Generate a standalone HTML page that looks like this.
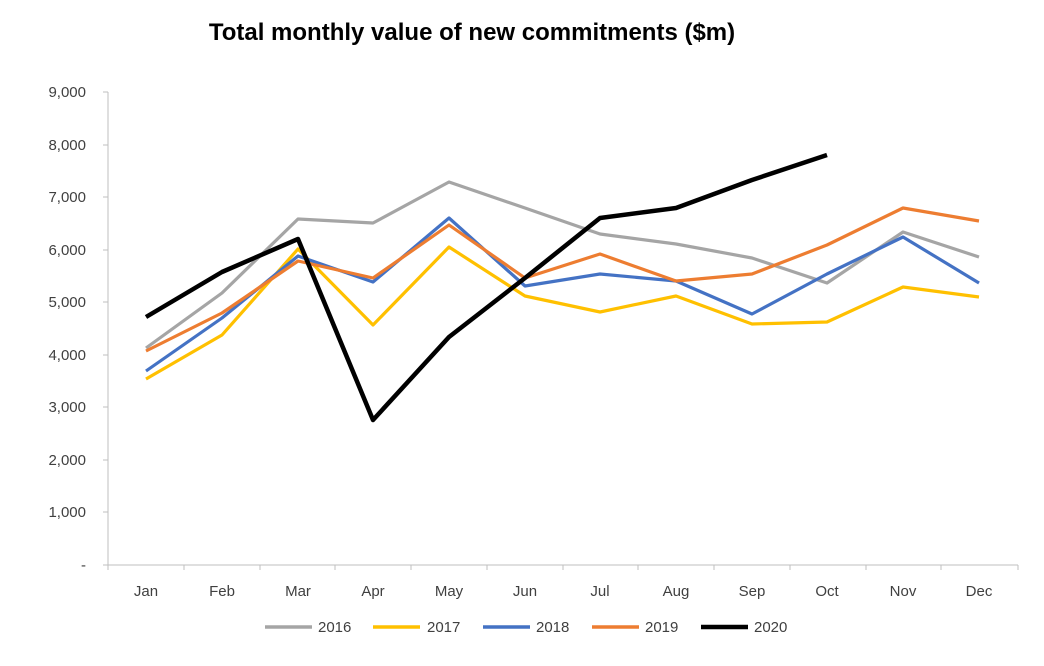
<!DOCTYPE html>
<html><head><meta charset="utf-8"><style>
html,body{margin:0;padding:0;background:#fff;}
svg text{font-family:"Liberation Sans",Arial,sans-serif;fill:#404040;}
</style></head><body>
<svg width="1044" height="661" viewBox="0 0 1044 661" xmlns="http://www.w3.org/2000/svg">
<text x="472" y="40" text-anchor="middle" font-size="24" font-weight="bold" style="fill:#000">Total monthly value of new commitments ($m)</text>
<g stroke="#bfbfbf" stroke-width="1">
<line x1="108" y1="92" x2="108" y2="565"/>
<line x1="103" y1="92" x2="108" y2="92"/><line x1="103" y1="145" x2="108" y2="145"/>
<line x1="103" y1="197" x2="108" y2="197"/><line x1="103" y1="250" x2="108" y2="250"/>
<line x1="103" y1="302" x2="108" y2="302"/><line x1="103" y1="355" x2="108" y2="355"/>
<line x1="103" y1="407" x2="108" y2="407"/><line x1="103" y1="460" x2="108" y2="460"/>
<line x1="103" y1="512" x2="108" y2="512"/><line x1="103" y1="565" x2="1018" y2="565"/>
<line x1="184" y1="565" x2="184" y2="570"/><line x1="260" y1="565" x2="260" y2="570"/>
<line x1="335" y1="565" x2="335" y2="570"/><line x1="411" y1="565" x2="411" y2="570"/>
<line x1="487" y1="565" x2="487" y2="570"/><line x1="563" y1="565" x2="563" y2="570"/>
<line x1="638" y1="565" x2="638" y2="570"/><line x1="714" y1="565" x2="714" y2="570"/>
<line x1="790" y1="565" x2="790" y2="570"/><line x1="866" y1="565" x2="866" y2="570"/>
<line x1="941" y1="565" x2="941" y2="570"/><line x1="1018" y1="565" x2="1018" y2="570"/>
<line x1="108" y1="565" x2="108" y2="570"/>
</g>
<g font-size="15" text-anchor="end">
<text x="86" y="97">9,000</text><text x="86" y="150">8,000</text><text x="86" y="202">7,000</text>
<text x="86" y="255">6,000</text><text x="86" y="307">5,000</text><text x="86" y="360">4,000</text>
<text x="86" y="412">3,000</text><text x="86" y="465">2,000</text><text x="86" y="517">1,000</text>
<text x="86" y="570">-</text>
</g>
<g font-size="15" text-anchor="middle">
<text x="146" y="596">Jan</text><text x="222" y="596">Feb</text><text x="298" y="596">Mar</text>
<text x="373" y="596">Apr</text><text x="449" y="596">May</text><text x="525" y="596">Jun</text>
<text x="600" y="596">Jul</text><text x="676" y="596">Aug</text><text x="752" y="596">Sep</text>
<text x="827" y="596">Oct</text><text x="903" y="596">Nov</text><text x="979" y="596">Dec</text>
</g>
<g fill="none" stroke-width="3.2" stroke-linejoin="round">
<polyline stroke="#a5a5a5" points="146,348 222,293 298,219 373,223 449,182 525,208 600,234 676,244 752,258 827,283 903,232 979,257"/>
<polyline stroke="#ffc000" points="146,379 222,335 298,249 373,325 449,247 525,296 600,312 676,296 752,324 827,322 903,287 979,297"/>
<polyline stroke="#4472c4" points="146,371 222,318 298,256 373,282 449,218 525,286 600,274 676,281 752,314 827,274 903,237 979,283"/>
<polyline stroke="#ed7d31" points="146,351 222,313 298,261 373,278 449,225 525,278 600,254 676,281 752,274 827,245 903,208 979,221"/>
<polyline stroke="#000" stroke-width="4.5" points="146,317 222,272 298,239 373,420 449,337 525,278 600,218 676,208 752,180 827,155"/>
</g>
<g stroke-width="3.5">
<line x1="265" y1="627" x2="312" y2="627" stroke="#a5a5a5"/>
<line x1="373" y1="627" x2="420" y2="627" stroke="#ffc000"/>
<line x1="483" y1="627" x2="530" y2="627" stroke="#4472c4"/>
<line x1="592" y1="627" x2="639" y2="627" stroke="#ed7d31"/>
<line x1="701" y1="627" x2="748" y2="627" stroke="#000" stroke-width="4.5"/>
</g>
<g font-size="15">
<text x="318" y="632">2016</text><text x="427" y="632">2017</text><text x="536" y="632">2018</text>
<text x="645" y="632">2019</text><text x="754" y="632">2020</text>
</g>
</svg>
</body></html>
